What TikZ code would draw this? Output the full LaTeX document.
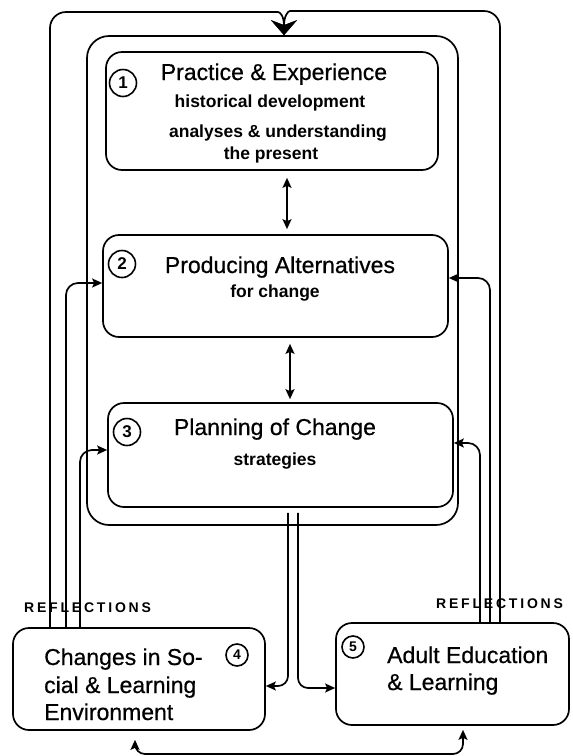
\documentclass[tikz,border=0pt]{standalone}
\usepackage{fontspec}
\setmainfont{Liberation Sans}
\newfontfamily\spacedfont[LetterSpace=20]{Liberation Sans}
\newfontfamily\heavyfont[FakeBold=0.6]{Liberation Sans}
\usetikzlibrary{arrows.meta}
\begin{document}
\begin{tikzpicture}[x=1pt,y=-1pt,
  ln/.style={line width=1.7pt, line join=round},
  tip/.style={-{Stealth[length=10pt,width=9pt,inset=2pt]}},
  dtip/.style={{Stealth[length=10pt,width=9pt,inset=2pt]}-{Stealth[length=10pt,width=9pt,inset=2pt]}},
  bigtip/.style={-{Stealth[length=15pt,width=26pt,inset=5pt]}},
  boxst/.style={draw, line width=1.7pt, inner sep=0pt, rounded corners=16pt},
  title/.style={font=\fontsize{23}{23}\selectfont\heavyfont, anchor=base, inner sep=0pt},
  sub/.style={font=\fontsize{17.5}{17.5}\selectfont\bfseries, anchor=base, inner sep=0pt},
  num/.style={circle, draw, line width=1.6pt, minimum size=27pt, inner sep=0pt, font=\fontsize{17}{17}\selectfont\bfseries},
  smallnum/.style={num, minimum size=22pt, font=\fontsize{14}{14}\selectfont\bfseries},
  refl/.style={font=\fontsize{14}{14}\selectfont\spacedfont\bfseries, anchor=base west, inner sep=0pt}]
\useasboundingbox (0,0) rectangle (573,756);
\fill[white] (0,0) rectangle (573,756);

% boxes
\node[boxst, rounded corners=22pt, minimum width=371pt, minimum height=489pt] (cont) at (272.5,280.5) {};
\node[boxst, minimum width=332pt, minimum height=118pt] (b1) at (272,111) {};
\node[boxst, minimum width=345pt, minimum height=102pt] (b2) at (275.5,286) {};
\node[boxst, minimum width=345pt, minimum height=104pt] (b3) at (280.5,455) {};
\node[boxst, minimum width=252pt, minimum height=102pt] (b4) at (139,679) {};
\node[boxst, minimum width=233pt, minimum height=102pt] (b5) at (452.5,674) {};

% texts
\node[title] (t1) at (274,80) {Practice \& Experience};
\node[sub] (s1a) at (270,107) {historical development};
\node[sub] (s1b) at (278,137) {analyses \& understanding};
\node[sub] (s1c) at (271,159) {the present};
\node[title] (t2) at (280,273) {Producing Alternatives};
\node[sub] (s2) at (275,297) {for change};
\node[title] (t3) at (275,435) {Planning of Change};
\node[sub] (s3) at (275,465) {strategies};
\node[title, anchor=base west] (t4a) at (44,665) {Changes in So-};
\node[title, anchor=base west] (t4b) at (44,693) {cial \& Learning};
\node[title, anchor=base west] (t4c) at (44,720) {Environment};
\node[title, anchor=base west] (t5a) at (387,663) {Adult Education};
\node[title, anchor=base west] (t5b) at (387,690) {\& Learning};

% numbers
\node[num] (n1) at (123,83) {1};
\node[num] (n2) at (122,264) {2};
\node[num] (n3) at (127,432) {3};
\node[smallnum] (n4) at (237,655) {4};
\node[smallnum] (n5) at (353,647) {5};

% outer loop
\draw[ln, rounded corners=16pt, bigtip] (50,0 |- b4.north) |- (262,12) .. controls (280,12) and (284,16) .. (284,0 |- cont.north);
\draw[ln, rounded corners=16pt, bigtip] (500,0 |- b5.north) |- (306,11) .. controls (288,11) and (284,16) .. (284,0 |- cont.north);

% feedback lines
\draw[ln, rounded corners=12pt, tip] (66,0 |- b4.north) |- (b2.west |- 0,283);
\draw[ln, rounded corners=12pt, tip] (80,0 |- b4.north) |- (b3.west |- 0,450);
\draw[ln, rounded corners=12pt, tip] (490,0 |- b5.north) |- (b2.east |- 0,278);
\draw[ln, rounded corners=12pt, tip] (480,0 |- b5.north) |- (b3.east |- 0,443);

% double arrows
\draw[ln, dtip, shorten <=7pt, shorten >=5pt] (287,0 |- b1.south) -- (287,0 |- b2.north);
\draw[ln, dtip, shorten <=6pt, shorten >=3pt] (290,0 |- b2.south) -- (290,0 |- b3.north);

% down to 4 and 5
\draw[ln, rounded corners=10pt, tip, shorten <=5pt] (288,0 |- b3.south) |- (b4.east |- 0,686);
\draw[ln, rounded corners=10pt, tip, shorten <=5pt] (298,0 |- b3.south) |- (b5.west |- 0,688);

% bottom link
\draw[ln, rounded corners=10pt, dtip, shorten <=9pt, shorten >=4pt] (135,0 |- b4.south) -- (135,754) -| (463,0 |- b5.south);

% reflections labels
\node[refl] (r4) at (24,612) {REFLECTIONS};
\node[refl] (r5) at (436,608) {REFLECTIONS};
\end{tikzpicture}
\end{document}
